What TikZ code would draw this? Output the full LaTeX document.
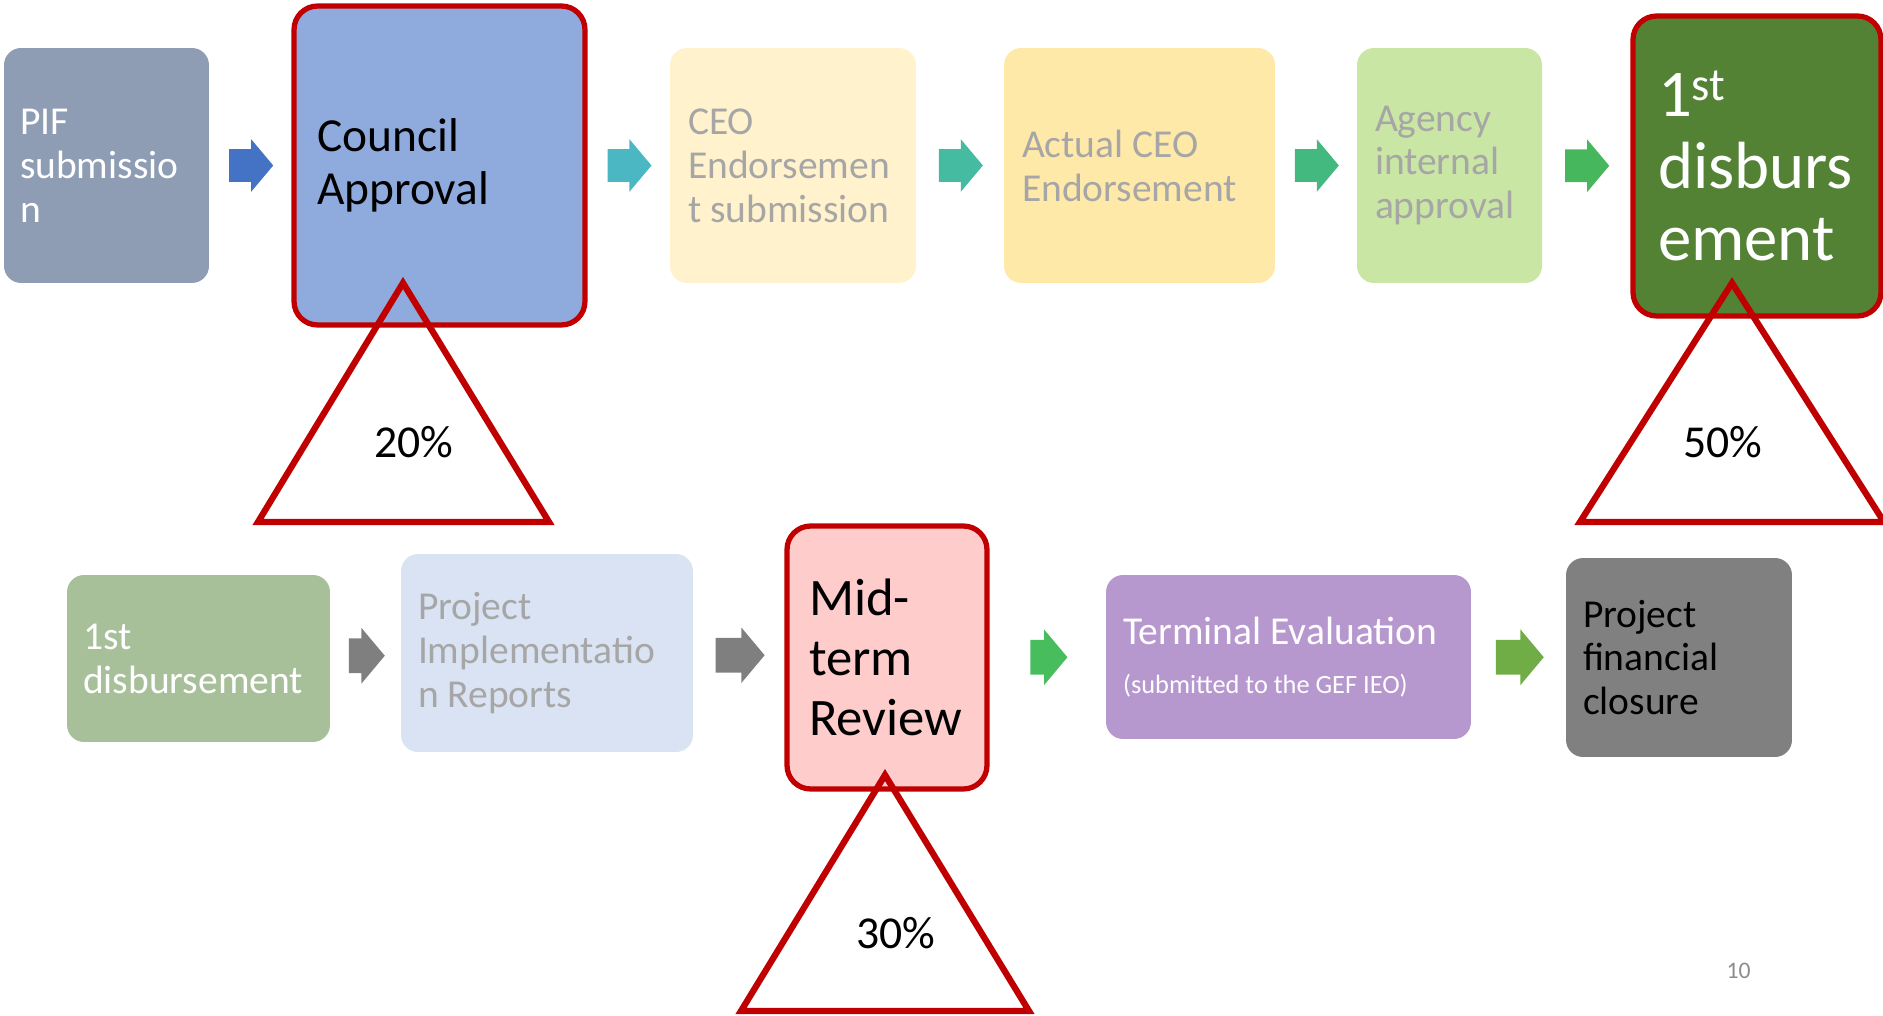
\documentclass[tikz,border=0pt]{standalone}
\usepackage{fontspec}
\setmainfont{Carlito}
\usepackage{tikz}
\usetikzlibrary{shapes.arrows}
\usetikzlibrary{positioning}
\usetikzlibrary{calc}

\definecolor{redline}{HTML}{C00000}
\definecolor{fadegray}{HTML}{A6A6A6}
\definecolor{pifgray}{HTML}{8F9DB4}
\definecolor{councilblue}{HTML}{8FAADC}
\definecolor{ceocream}{HTML}{FFF2CC}
\definecolor{ceoyellow}{HTML}{FFE9A9}
\definecolor{agencygreen}{HTML}{C9E6A5}
\definecolor{disbgreen}{HTML}{548235}
\definecolor{sagegreen}{HTML}{A8C09A}
\definecolor{pirblue}{HTML}{DAE3F3}
\definecolor{mtrpink}{HTML}{FFCCCC}
\definecolor{tepurple}{HTML}{B698CF}
\definecolor{closegray}{HTML}{808080}
\definecolor{arrowblue}{HTML}{4472C4}
\definecolor{arrowteal}{HTML}{4AB7C3}
\definecolor{arrowsea}{HTML}{45BBA1}
\definecolor{arrowjade}{HTML}{44B97F}
\definecolor{arrowgreen}{HTML}{46B75D}
\definecolor{arrowgray}{HTML}{7F7F7F}
\definecolor{arrowlime}{HTML}{47BD5E}
\definecolor{arrowolive}{HTML}{70AD47}
\definecolor{pagegray}{HTML}{8C8C8C}

\tikzset{
    phase/.style = {rounded corners = 0.34cm, align = flush left, inner ysep = 0pt,
                    font = \fontsize{22.5}{25}\selectfont},
    keyphase/.style = {phase, rounded corners = 0.47cm, draw = redline, line width = 3pt},
    blockarrow/.style = {single arrow, single arrow head extend = 0.2cm,
                         single arrow tip angle = 100, inner xsep = 0pt, inner ysep = 0.32cm,
                         minimum height = 0.88cm, xshift = -0.12cm},
    lowarrow/.style = {blockarrow, single arrow head extend = 0.21cm, inner ysep = 0.34cm},
    share/.style = {draw = redline, line width = 3.6pt},
    pct/.style = {font = \fontsize{26}{30}\selectfont}
}

\begin{document}
\begin{tikzpicture}[x = 0.02cm, y = -0.02cm]
            \useasboundingbox (0, 0) rectangle (1883, 1016);

            % top row
            \node[phase, fill = pifgray, text = white, text width = 3.46cm,
            inner xsep = 0.32cm, minimum height = 4.70cm] (pif) at (106.5, 165.5)
            {PIF\\submissio\\n};
            \node[keyphase, fill = councilblue, text width = 4.90cm,
            inner xsep = 0.46cm, minimum height = 6.38cm,
            font = \fontsize{27}{30}\selectfont] (council) at (439.5, 165.5)
            {Council\\Approval};
            \node[phase, fill = ceocream, text = fadegray, text width = 4.20cm,
            inner xsep = 0.36cm, minimum height = 4.70cm] (ceosub) at (793, 165.5)
            {CEO\\Endorsemen\\t submission};
            \node[phase, fill = ceoyellow, text = fadegray, text width = 4.70cm,
            inner xsep = 0.36cm, minimum height = 4.70cm] (ceoact) at (1139.5, 165.5)
            {Actual CEO\\Endorsement};
            \node[phase, fill = agencygreen, text = fadegray, text width = 2.98cm,
            inner xsep = 0.36cm, minimum height = 4.70cm] (agency) at (1449.5, 165.5)
            {Agency\\internal\\approval};
            \node[keyphase, fill = disbgreen, text = white, text width = 3.96cm,
            inner xsep = 0.50cm, minimum height = 6.00cm,
            font = \fontsize{38}{41}\selectfont] (firstdisb) at (1757, 166)
            {1\textsuperscript{st}\\disburs\\ement};

            \node[blockarrow, fill = arrowblue] (a1) at ($(pif.east)!0.5!(council.west)$) {};
            \node[blockarrow, fill = arrowteal] (a2) at ($(council.east)!0.5!(ceosub.west)$) {};
            \node[blockarrow, fill = arrowsea] (a3) at ($(ceosub.east)!0.5!(ceoact.west)$) {};
            \node[blockarrow, fill = arrowjade] (a4) at ($(ceoact.east)!0.5!(agency.west)$) {};
            \node[blockarrow, fill = arrowgreen] (a5) at ($(agency.east)!0.5!(firstdisb.west)$) {};

            % bottom row
            \node[phase, fill = sagegreen, text = white, text width = 4.62cm,
            inner xsep = 0.32cm, minimum height = 3.34cm] (disb) at (198.5, 658.5)
            {1st\\disbursement};
            \node[phase, fill = pirblue, text = fadegray, text width = 5.16cm,
            inner xsep = 0.34cm, minimum height = 3.96cm] (pir) at (547, 653)
            {Project\\Implementatio\\n Reports};
            \node[keyphase, fill = mtrpink, text width = 3.12cm,
            inner xsep = 0.44cm, minimum height = 5.26cm,
            font = \fontsize{30}{34}\selectfont] (mtr) at (887, 657.5)
            {Mid-\\term\\Review};
            \node[phase, fill = tepurple, text = white, text width = 6.62cm,
            inner xsep = 0.34cm, minimum height = 3.28cm] (te) at (1288.5, 657)
            {Terminal Evaluation\\[3pt]{\fontsize{15}{18}\selectfont (submitted to the GEF IEO)}};
            \node[phase, fill = closegray, text = black, text width = 3.84cm,
            inner xsep = 0.34cm, minimum height = 3.98cm] (pfc) at (1679, 657.5)
            {Project\\financial\\closure};

            \node[lowarrow, fill = arrowgray, minimum height = 0.72cm]
            (b1) at ($(disb.east)!0.5!(pir.west)$) {};
            \node[lowarrow, fill = arrowgray, minimum height = 0.98cm]
            (b2) at ($(pir.east)!0.5!(mtr.west)$) {};
            \node[lowarrow, fill = arrowlime, minimum height = 0.74cm]
            (b3) at ($(mtr.east)!0.5!(te.west)$) {};
            \node[lowarrow, fill = arrowolive, minimum height = 0.96cm]
            (b4) at ($(te.east)!0.5!(pfc.west)$) {};

            % shares
            \draw[share] (403, 283) -- (258, 522) -- (549, 522) -- cycle;
            \node[pct] (p20) at (414, 442) {20\%};
            \draw[share] (1732, 283) -- (1580, 522) -- (1884, 522) -- cycle;
            \node[pct] (p50) at (1723, 442) {50\%};
            \draw[share] (885, 775) -- (741, 1011) -- (1029, 1011) -- cycle;
            \node[pct] (p30) at (896, 933) {30\%};

            \node[font = \fontsize{13.5}{16}\selectfont, text = pagegray] (pageno) at (1738.5, 971) {10};
        \end{tikzpicture}
\end{document}
